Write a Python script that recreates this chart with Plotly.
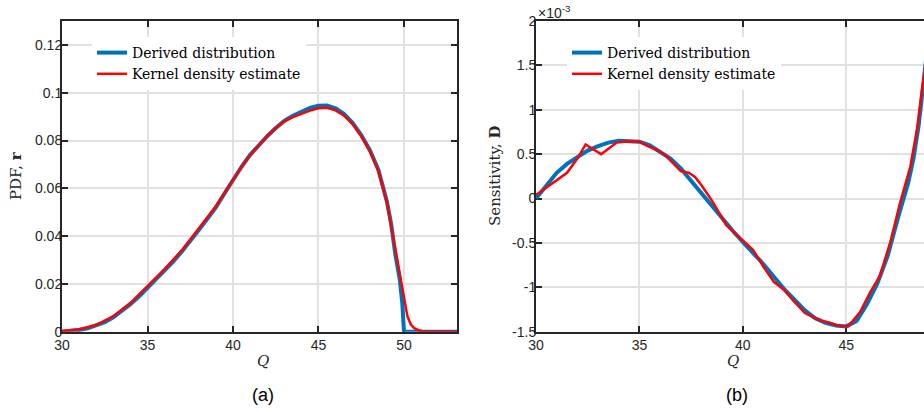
import plotly.graph_objects as go

# ---------------- data: panel (a) PDF ----------------
q_derived_a = [30, 30.5, 31, 31.5, 32, 32.5, 33, 33.5, 34, 34.5, 35, 35.5, 36, 36.5, 37, 37.5,
               38, 38.5, 39, 39.5, 40, 40.5, 41, 41.5, 42, 42.5, 43, 43.5, 44, 44.5, 45, 45.5,
               46, 46.5, 47, 47.5, 48, 48.5, 49, 49.25, 49.5, 49.75, 49.9, 50, 53.1]
pdf_derived = [0, 0.0002, 0.0007, 0.0014, 0.0025, 0.004, 0.006, 0.0085, 0.0115, 0.0147, 0.0183,
               0.0218, 0.0255, 0.0293, 0.0335, 0.0378, 0.0425, 0.0472, 0.052, 0.0578, 0.0635,
               0.069, 0.074, 0.0782, 0.0818, 0.0852, 0.0882, 0.0903, 0.0921, 0.0936, 0.0945,
               0.0946, 0.0935, 0.0911, 0.0873, 0.0823, 0.0761, 0.0678, 0.0545, 0.045, 0.032,
               0.022, 0.012, 0.0, 0.0]

q_kde_a = [30, 31, 32, 33, 34, 35, 36, 37, 38, 39, 39.5, 40, 40.5, 41, 41.5, 42, 42.5, 43, 43.5,
           44, 44.5, 45, 45.5, 46, 46.5, 47, 47.5, 48, 48.5, 49, 49.5, 49.75, 50, 50.2, 50.4,
           50.6, 50.9, 51.2, 53.1]
pdf_kde = [0.0003, 0.001, 0.0028, 0.0065, 0.012, 0.019, 0.0262, 0.034, 0.043, 0.0525, 0.058,
           0.0635, 0.069, 0.0738, 0.0778, 0.0818, 0.0852, 0.088, 0.0898, 0.0912, 0.0925, 0.0935,
           0.0937, 0.0926, 0.0904, 0.0868, 0.0818, 0.0755, 0.0672, 0.054, 0.034, 0.024, 0.014,
           0.0065, 0.003, 0.0015, 0.0005, 0.0, 0.0]

# ---------------- data: panel (b) sensitivity (x 1e-3) ----------------
q_derived_b = [30, 30.5, 31, 31.5, 32, 32.5, 33, 33.5, 34, 34.5, 35, 35.5, 36, 36.5, 37, 37.5,
               38, 38.5, 39, 39.5, 40, 40.5, 41, 41.5, 42, 42.5, 43, 43.5, 44, 44.5, 45, 45.5,
               46, 46.5, 47, 47.5, 48, 48.25, 48.5, 48.75, 49]
sens_derived = [0, 0.15, 0.29, 0.39, 0.47, 0.54, 0.59, 0.63, 0.65, 0.65, 0.64, 0.6, 0.53, 0.45,
                0.34, 0.2, 0.06, -0.08, -0.23, -0.36, -0.49, -0.61, -0.74, -0.88, -1.02, -1.14,
                -1.26, -1.35, -1.4, -1.43, -1.44, -1.38, -1.19, -0.96, -0.65, -0.22, 0.18, 0.45,
                0.82, 1.34, 1.85]

q_kde_b = [30, 30.5, 31, 31.5, 32, 32.4, 32.8, 33.15, 33.5, 33.9, 34.5, 35, 35.4, 35.8, 36.2,
           36.6, 37, 37.4, 37.7, 38, 38.5, 39.2, 40, 40.5, 41, 41.5, 42, 42.4, 43, 43.7, 44.2,
           44.7, 45.1, 45.67, 46.15, 46.63, 47.12, 47.6, 48.1, 48.42, 48.66, 49]
sens_kde = [0.04, 0.12, 0.2, 0.29, 0.45, 0.61, 0.55, 0.5, 0.56, 0.63, 0.645, 0.64, 0.59, 0.55,
            0.5, 0.4, 0.31, 0.29, 0.24, 0.15, -0.02, -0.3, -0.47, -0.58, -0.77, -0.94, -1.03,
            -1.14, -1.29, -1.37, -1.4, -1.44, -1.44, -1.28, -1.06, -0.87, -0.5, -0.05, 0.36,
            0.78, 1.22, 1.75]

# ---------------- ticks ----------------
xa_ticks = [30, 35, 40, 45, 50]
xa_text = ["30", "35", "40", "45", "50"]
ya_ticks = [0, 0.02, 0.04, 0.06, 0.08, 0.1, 0.12]
ya_text = ["0", "0.02", "0.04", "0.06", "0.08", "0.1", "0.12"]
xb_ticks = [30, 35, 40, 45, 50]
xb_text = ["30", "35", "40", "45", "50"]
yb_ticks = [-1.5, -1, -0.5, 0, 0.5, 1, 1.5, 2]
yb_text = ["-1.5", "-1", "-0.5", "0", "0.5", "1", "1.5", "2"]

series_names = ["Derived distribution", "Kernel density estimate"]
BLUE = "#0072BD"
RED = "#FF0000"
AX = "#262626"
GRID = "#E1E1E1"
W, H = 924, 412

fig = go.Figure()
fig.add_trace(go.Scatter(x=q_derived_a, y=pdf_derived, mode="lines", name=series_names[0],
                         line=dict(color=BLUE, width=4), xaxis="x", yaxis="y", legend="legend"))
fig.add_trace(go.Scatter(x=q_kde_a, y=pdf_kde, mode="lines", name=series_names[1],
                         line=dict(color=RED, width=2.5), xaxis="x", yaxis="y", legend="legend"))
fig.add_trace(go.Scatter(x=q_derived_b, y=sens_derived, mode="lines", name=series_names[0],
                         line=dict(color=BLUE, width=4), xaxis="x2", yaxis="y2", legend="legend2"))
fig.add_trace(go.Scatter(x=q_kde_b, y=sens_kde, mode="lines", name=series_names[1],
                         line=dict(color=RED, width=2.5), xaxis="x2", yaxis="y2", legend="legend2"))

tickfont = dict(family="Liberation Sans, Arial, sans-serif", size=14, color=AX)
common = dict(showgrid=True, gridcolor=GRID, gridwidth=1.5, zeroline=False, showline=True,
              linecolor=AX, linewidth=2, ticks="inside", ticklen=6, tickwidth=2, tickcolor=AX,
              tickfont=tickfont, automargin=False, layer="below traces", tickmode="array")

ydom = [1 - 331.7 / H, 1 - 21 / H]
legfont = dict(family="DejaVu Serif, serif", size=14, color="black")
fig.update_layout(
    width=W, height=H, margin=dict(l=0, r=0, t=0, b=0),
    paper_bgcolor="white", plot_bgcolor="white", template="none",
    xaxis=dict(domain=[62 / W, 457 / W], range=[30, 53.1], tickvals=xa_ticks, ticktext=xa_text,
               mirror="ticks", anchor="y", ticklabelstandoff=-1, **common),
    yaxis=dict(domain=ydom, range=[0, 0.13], tickvals=ya_ticks, ticktext=ya_text,
               mirror="ticks", anchor="x", ticklabelstandoff=-5, **common),
    xaxis2=dict(domain=[536 / W, 1.0], range=[30, 48.76], tickvals=xb_ticks, ticktext=xb_text,
                mirror="ticks", anchor="y2", ticklabelstandoff=-1, **common),
    yaxis2=dict(domain=ydom, range=[-1.5, 2], tickvals=yb_ticks, ticktext=yb_text,
                mirror=False, anchor="x2", ticklabelstandoff=-5, **common),
    legend=dict(x=92 / W, y=1 - 37 / H, xanchor="left", yanchor="top", bgcolor="white",
                borderwidth=0, font=legfont, tracegroupgap=0),
    legend2=dict(x=567 / W, y=1 - 37 / H, xanchor="left", yanchor="top", bgcolor="white",
                 borderwidth=0, font=legfont, tracegroupgap=0),
    showlegend=True,
)

serif = dict(family="DejaVu Serif, serif", size=15, color=AX)
ann = [
    dict(text="(a)", x=263 / W, y=1 - 395 / H, font=dict(family="Liberation Sans, Arial", size=18, color="black")),
    dict(text="(b)", x=737 / W, y=1 - 395 / H, font=dict(family="Liberation Sans, Arial", size=18, color="black")),
    dict(text="<i>Q</i>", x=263 / W, y=1 - 361 / H, font=serif),
    dict(text="<i>Q</i>", x=733 / W, y=1 - 361 / H, font=serif),
    dict(text="PDF, <b>r</b>", x=16 / W, y=1 - 176 / H, textangle=-90, font=serif),
    dict(text="Sensitivity, <b>D</b>", x=495 / W, y=1 - 176 / H, textangle=-90, font=serif),
]
for a in ann:
    fig.add_annotation(xref="paper", yref="paper", showarrow=False, xanchor="center",
                       yanchor="middle", **a)
fig.add_annotation(xref="paper", yref="paper", showarrow=False, xanchor="left", yanchor="middle",
                   text="×10<sup>-3</sup>", x=536 / W, y=1 - 12 / H, font=tickfont)

fig.write_html("out.html", config={"displayModeBar": False},
               post_script="document.body.style.margin='0';document.body.style.overflow='hidden';")
